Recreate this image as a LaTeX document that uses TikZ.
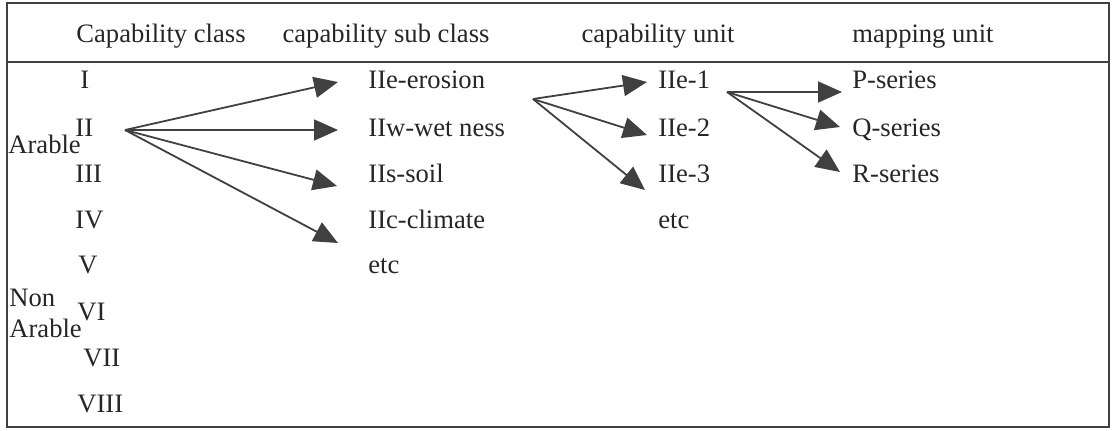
\documentclass[tikz,border=0pt]{standalone}
\usepackage{fontspec}
\setmainfont{Liberation Serif}
\usetikzlibrary{arrows.meta}

\begin{document}
\begin{tikzpicture}[x=0.5pt,y=-0.5pt,font=\fontsize{13.3}{16}\selectfont,
  lbl/.style={anchor=base west,inner sep=0pt,text=black!85},
  hdr/.style={anchor=base,inner sep=0pt,text=black!85},
  link/.style={line width=0.9pt,draw=black!75,-{Triangle[length=12pt,width=10.5pt,fill=black!75]}}]
\useasboundingbox (0,0) rectangle (1115,430);

% frame and header rule
\draw[line width=1pt,black!75] (7,3) rectangle (1109,427);
\draw[line width=1pt,black!75] (7,62) -- (1109,62);

% header
\node[hdr] (hclass) at (161,42) {Capability class};
\node[hdr] (hsub) at (386,42) {capability sub class};
\node[hdr] (hunit) at (658,42) {capability unit};
\node[hdr] (hmap) at (923,42) {mapping unit};

% capability classes
\node[lbl] (c1) at (80,88) {I};
\node[lbl] (c2) at (75,136) {II};
\node[lbl] (c3) at (75,182) {III};
\node[lbl] (c4) at (75,228) {IV};
\node[lbl] (c5) at (78,273) {V};
\node[lbl] (c6) at (77,320) {VI};
\node[lbl] (c7) at (83,366) {VII};
\node[lbl] (c8) at (77,412) {VIII};
\node[lbl] (arable) at (8,153) {Arable};
\node[lbl] (non) at (9,306) {Non};
\node[lbl] (nonarable) at (9,337) {Arable};

% sub classes
\node[lbl] (s1) at (368,88) {IIe-erosion};
\node[lbl] (s2) at (368,136) {IIw-wet ness};
\node[lbl] (s3) at (368,182) {IIs-soil};
\node[lbl] (s4) at (368,228) {IIc-climate};
\node[lbl] (s5) at (368,273) {etc};

% units
\node[lbl] (u1) at (658,88) {IIe-1};
\node[lbl] (u2) at (658,136) {IIe-2};
\node[lbl] (u3) at (658,182) {IIe-3};
\node[lbl] (u4) at (658,228) {etc};

% mapping units
\node[lbl] (m1) at (852,88) {P-series};
\node[lbl] (m2) at (852,136) {Q-series};
\node[lbl] (m3) at (852,182) {R-series};

% fan points and arrow ends
\coordinate (fc) at (125,130);
\coordinate (fs) at (533,99);
\coordinate (fu) at (727,92);
\coordinate (ts1) at (338,82);
\coordinate (ts2) at (338,130);
\coordinate (ts3) at (337,186);
\coordinate (ts4) at (338,243);
\coordinate (tu1) at (647,82);
\coordinate (tu2) at (647,135);
\coordinate (tu3) at (645,190);
\coordinate (tm1) at (842,92);
\coordinate (tm2) at (840,127);
\coordinate (tm3) at (840,172);

\foreach \t in {ts1,ts2,ts3,ts4}
  \draw[link] (fc) -- (\t);
\foreach \t in {tu1,tu2,tu3}
  \draw[link] (fs) -- (\t);
\foreach \t in {tm1,tm2,tm3}
  \draw[link] (fu) -- (\t);

\end{tikzpicture}
\end{document}
